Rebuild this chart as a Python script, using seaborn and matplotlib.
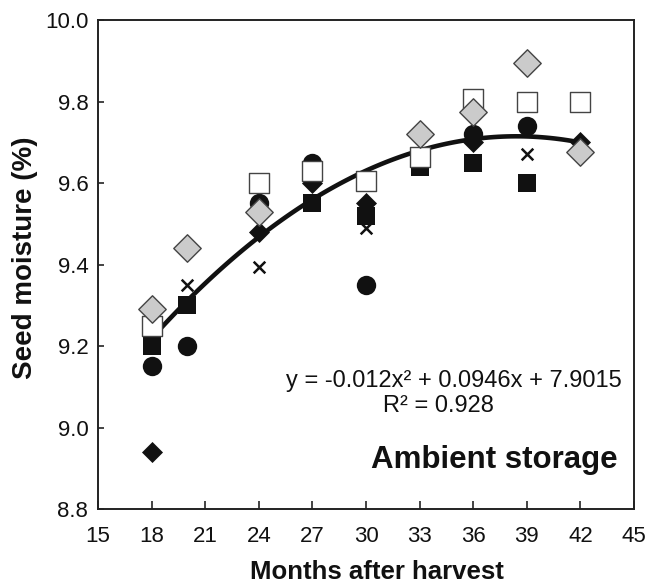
import numpy as np
import matplotlib
matplotlib.use("Agg")
import matplotlib.pyplot as plt
import seaborn as sns

# Seed moisture (%) under ambient storage, by months after harvest
months = [18, 20, 24, 27, 30, 33, 36, 39, 42]
nan = np.nan
black_diamond = [8.94, nan, 9.48, 9.60, 9.55, nan, 9.70, nan, 9.70]
black_square = [9.20, 9.30, nan, 9.55, 9.52, 9.64, 9.65, 9.60, nan]
black_circle = [9.15, 9.20, 9.55, 9.65, 9.35, nan, 9.72, 9.74, nan]
cross = [nan, 9.35, 9.395, nan, 9.49, nan, nan, 9.67, nan]
white_square = [9.25, nan, 9.60, 9.63, 9.605, 9.665, 9.805, 9.80, 9.80]
gray_diamond = [9.29, 9.44, 9.53, nan, nan, 9.72, 9.775, 9.895, 9.675]

# quadratic trend of the pooled series
trend = [9.217, 9.309, 9.477, 9.557, 9.628, 9.678, 9.706, 9.716, 9.70]

x_ticks = list(range(15, 46, 3))
y_ticks = [8.8, 9.0, 9.2, 9.4, 9.6, 9.8, 10.0]

sns.set_style("ticks")
plt.rcParams["font.family"] = ["Liberation Sans", "DejaVu Sans"]

fig = plt.figure(figsize=(6.46, 5.85), dpi=100)
ax = fig.add_axes([0.1517, 0.1299, 0.8297, 0.8359])

sns.regplot(x=months, y=trend, order=2, scatter=False, ci=None, truncate=True,
            line_kws=dict(color="#111111", lw=3.3, zorder=2), ax=ax)

series = [
    (black_circle, "o", 195, "#111111", "#111111", 0),
    (cross, "x", 70, "#111111", "#111111", 1.8),
    (black_diamond, "D", 115, "#111111", "#111111", 0),
    (black_square, "s", 170, "#111111", "#111111", 0),
    (white_square, "s", 195, "white", "#444444", 1.0),
    (gray_diamond, "D", 195, "#cbcbcb", "#444444", 1.0),
]
for i, (vals, mk, size, face, edge, lw) in enumerate(series):
    if mk == "x":
        sns.scatterplot(x=months, y=vals, marker=mk, s=size, color=face,
                        linewidth=lw, ax=ax, zorder=3 + i)
    else:
        sns.scatterplot(x=months, y=vals, marker=mk, s=size, color=face,
                        edgecolor=edge, linewidth=lw, ax=ax, zorder=3 + i)

ax.set_xlim(15, 45)
ax.set_ylim(8.8, 10.0)
ax.set_xticks(x_ticks)
ax.set_yticks(y_ticks)
ax.set_yticklabels([f"{v:.1f}" for v in y_ticks])
ax.tick_params(axis="x", direction="in", length=6, width=1.1, labelsize=16,
               pad=12, colors="#111111")
ax.tick_params(axis="y", direction="in", length=4, width=1.1, labelsize=16,
               pad=7, colors="#111111")
for sp in ax.spines.values():
    sp.set_visible(True)
    sp.set_linewidth(1.4)
    sp.set_color("#222222")

ax.set_xlabel("Months after harvest", fontsize=18.5, fontweight="bold",
              color="#111111")
ax.set_ylabel("Seed moisture (%)", fontsize=20, fontweight="bold",
              color="#111111")
ax.xaxis.set_label_coords(0.52, -0.105)
ax.yaxis.set_label_coords(-0.112, 0.513)

ax.text(44.32, 9.099, "y = -0.012x² + 0.0946x + 7.9015", ha="right",
        va="baseline", fontsize=17, color="#111111")
ax.text(34.03, 9.039, "R² = 0.928", ha="center", va="baseline",
        fontsize=17, color="#111111")
ax.text(37.2, 8.901, "Ambient storage", ha="center", va="baseline",
        fontsize=22.5, fontweight="bold", color="#111111")

fig.savefig("out.png", dpi=100)
